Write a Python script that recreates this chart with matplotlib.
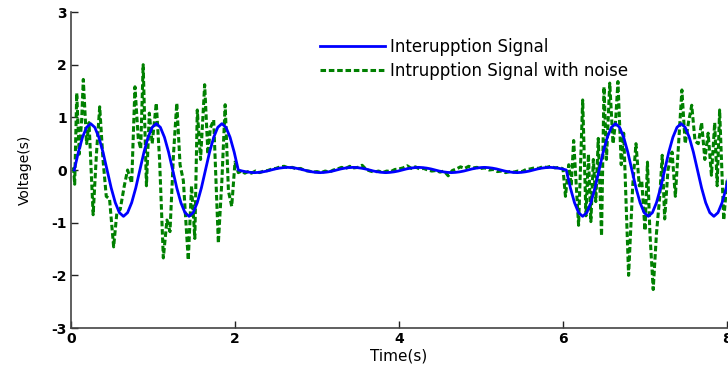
import matplotlib
matplotlib.use("Agg")
import matplotlib.pyplot as plt

plt.rcParams['font.family'] = ['DejaVu Sans']
plt.rcParams['lines.scale_dashes'] = False

# ---------------- data ----------------
blue_t0 = 0.04
blue_dt = 0.05
blue_v = [
    # first active part
    0.00, 0.34, 0.62, 0.81, 0.88, 0.81, 0.62, 0.34, 0.00, -0.34, -0.62, -0.81, -0.88, -0.81, -0.62, -0.34,
    0.00, 0.34, 0.62, 0.81, 0.88, 0.81, 0.62, 0.34, 0.00, -0.34, -0.62, -0.81, -0.88, -0.81, -0.62, -0.34,
    0.00, 0.34, 0.62, 0.81, 0.88, 0.81, 0.62, 0.34,
    # interruption
    0.00, -0.02, -0.035, -0.045, -0.05, -0.045, -0.035, -0.02, 0.00, 0.02, 0.035, 0.045, 0.05, 0.045, 0.035, 0.02,
    0.00, -0.02, -0.035, -0.045, -0.05, -0.045, -0.035, -0.02, 0.00, 0.02, 0.035, 0.045, 0.05, 0.045, 0.035, 0.02,
    0.00, -0.02, -0.035, -0.045, -0.05, -0.045, -0.035, -0.02, 0.00, 0.02, 0.035, 0.045, 0.05, 0.045, 0.035, 0.02,
    0.00, -0.02, -0.035, -0.045, -0.05, -0.045, -0.035, -0.02, 0.00, 0.02, 0.035, 0.045, 0.05, 0.045, 0.035, 0.02,
    0.00, -0.02, -0.035, -0.045, -0.05, -0.045, -0.035, -0.02, 0.00, 0.02, 0.035, 0.045, 0.05, 0.045, 0.035, 0.02,
    # second active part
    0.00, -0.34, -0.62, -0.81, -0.88, -0.81, -0.62, -0.34, 0.00, 0.34, 0.62, 0.81, 0.88, 0.81, 0.62, 0.34,
    0.00, -0.34, -0.62, -0.81, -0.88, -0.81, -0.62, -0.34, 0.00, 0.34, 0.62, 0.81, 0.88, 0.81, 0.62, 0.34,
    0.00, -0.34, -0.62, -0.81, -0.88, -0.81, -0.62, -0.34, 0.00,
]
blue_t = [round(blue_t0 + i * blue_dt, 4) for i in range(len(blue_v))]

green_t = [
    0.03, 0.045, 0.07, 0.10, 0.13, 0.15, 0.19, 0.22, 0.27, 0.31, 0.35, 0.39, 0.43, 0.47, 0.52, 0.56,
    0.60, 0.65, 0.69, 0.74, 0.78, 0.82, 0.85, 0.88, 0.92, 0.955, 0.99, 1.04, 1.08, 1.126, 1.17, 1.207,
    1.25, 1.29, 1.33, 1.37, 1.43, 1.47, 1.51, 1.54, 1.58, 1.63, 1.67, 1.70, 1.74, 1.797, 1.84, 1.88,
    1.92, 1.96, 2.00,
    2.04, 2.08, 2.12, 2.16, 2.20, 2.25, 2.30, 2.35, 2.40, 2.45, 2.50, 2.55, 2.60, 2.65, 2.70, 2.75,
    2.80, 2.85, 2.90, 2.95, 3.00, 3.05, 3.10, 3.15, 3.20, 3.25, 3.30, 3.35, 3.40, 3.45, 3.50, 3.55,
    3.60, 3.65, 3.70, 3.75, 3.80, 3.85, 3.90, 3.95, 4.00, 4.05, 4.10, 4.15, 4.20, 4.25, 4.30, 4.35,
    4.40, 4.45, 4.50, 4.55, 4.60, 4.65, 4.70, 4.75, 4.80, 4.85, 4.90, 4.95, 5.00, 5.05, 5.10, 5.15,
    5.20, 5.25, 5.30, 5.35, 5.40, 5.45, 5.50, 5.55, 5.60, 5.65, 5.70, 5.75, 5.80, 5.85, 5.90, 5.96,
    6.00, 6.03, 6.07, 6.10, 6.13, 6.19, 6.24, 6.28, 6.31, 6.34, 6.37, 6.40, 6.43, 6.47, 6.50, 6.53,
    6.57, 6.61, 6.64, 6.67, 6.71, 6.74, 6.80, 6.85, 6.89, 6.93, 6.96, 7.00, 7.03, 7.06, 7.10, 7.14,
    7.18, 7.21, 7.24, 7.28, 7.33, 7.37, 7.41, 7.45, 7.49, 7.53, 7.57, 7.61, 7.65, 7.69, 7.73, 7.77,
    7.81, 7.85, 7.88, 7.91, 7.96, 8.00,
]
green_v = [
    0.05, -0.27, 1.46, 0.30, 0.95, 1.72, 0.50, 0.90, -0.85, 0.30, 1.20, 0.20, -0.50, -0.55, -1.46, -0.80,
    -0.75, -0.30, 0.00, -0.25, 1.58, 0.60, 0.40, 2.00, -0.30, 1.08, 0.50, 1.27, 0.20, -1.67, -0.95, -1.17,
    0.30, 1.27, 0.10, -0.20, -1.71, -0.30, -1.30, 1.14, 0.20, 1.62, 0.30, 0.80, 0.95, -1.39, -0.20, 1.24,
    -0.40, -0.69, 0.15,
    -0.05, -0.02, -0.06, -0.03, -0.06, -0.02, -0.05, -0.02, -0.01, 0.02, 0.03, 0.06, 0.07, 0.04, 0.05, 0.02,
    0.03, -0.01, -0.02, -0.04, -0.03, -0.05, -0.02, -0.04, 0.00, 0.02, 0.05, 0.03, 0.07, 0.04, 0.05, 0.09,
    0.01, -0.02, -0.04, -0.02, -0.05, -0.02, -0.03, 0.01, 0.02, 0.04, 0.08, 0.03, 0.06, 0.02, 0.03, 0.00,
    -0.02, -0.01, -0.04, -0.02, -0.11, -0.01, 0.02, 0.06, 0.03, 0.07, 0.04, 0.05, 0.03, 0.04, 0.00, 0.01,
    -0.03, -0.02, -0.05, -0.03, -0.04, -0.02, -0.03, 0.01, 0.02, 0.04, 0.03, 0.06, 0.05, 0.07, 0.04, 0.05,
    0.02, -0.50, 0.10, -0.30, 0.56, -1.05, 1.33, -0.87, 0.30, -0.98, 0.20, -0.60, 0.60, -1.25, 1.58, 0.20,
    1.65, 0.50, 0.90, 1.68, 0.10, 0.70, -2.00, -0.30, 0.50, -0.30, -0.20, -1.15, 0.15, -1.20, -2.27, -1.20,
    -0.50, 0.28, -0.93, 0.00, 0.34, -0.50, 0.50, 1.52, 0.50, 0.90, 1.23, 0.55, 0.50, 0.90, 0.20, 0.70,
    -0.10, 0.90, -0.30, 1.14, -0.95, -0.20,
]

x_ticks = [0, 2, 4, 6, 8]
y_ticks = [-3, -2, -1, 0, 1, 2, 3]
labels = ["Interupption Signal", "Intrupption Signal with noise"]

# ---------------- figure ----------------
fig = plt.figure(figsize=(7.28, 3.76), dpi=100)
W, H = 728, 376
ax = fig.add_axes([71 / W, (H - 328) / H, (727 - 71) / W, (328 - 12) / H])

l2, = ax.plot(green_t, green_v, color='#008000', lw=2.2, dashes=(4, 2), zorder=2,
              label=labels[1])
l1, = ax.plot(blue_t, blue_v, color='#0000ff', lw=2.0, zorder=3, label=labels[0])

ax.set_xlim(0, 8)
ax.set_ylim(-3, 3)
ax.set_xticks(x_ticks)
ax.set_yticks(y_ticks)
ax.set_xticklabels([str(v) for v in x_ticks], fontweight='bold', fontsize=10)
ax.set_yticklabels([str(v) for v in y_ticks], fontweight='bold', fontsize=10)
ax.tick_params(direction='in', length=5, width=1, color='#222222', pad=3)
for s in ['top', 'right']:
    ax.spines[s].set_visible(False)
for s in ['left', 'bottom']:
    ax.spines[s].set_color('#444444')
    ax.spines[s].set_linewidth(1.2)

ax.set_xlabel('Time(s)', fontsize=11, labelpad=2)
ax.set_ylabel('Voltage(s)', fontsize=10, labelpad=14)

leg = fig.legend(handles=[l1, l2], labels=labels, loc='upper left',
                 bbox_to_anchor=(313 / W, 1 - 31 / H), frameon=False,
                 fontsize=12, handlelength=3.9, handletextpad=0.3,
                 labelspacing=0.4, borderaxespad=0)

fig.savefig('out.png', dpi=100)
